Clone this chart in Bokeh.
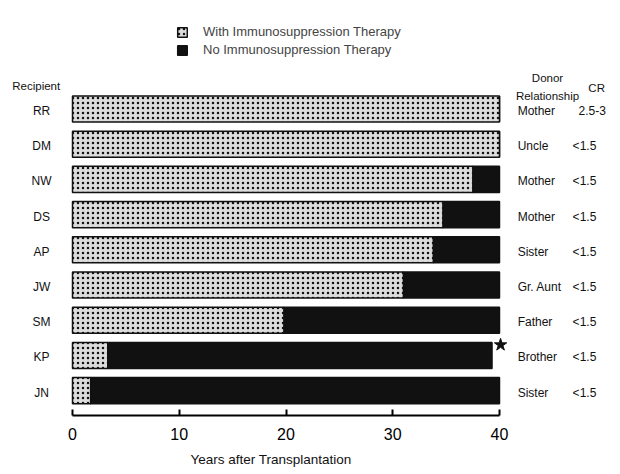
from bokeh.plotting import figure
from bokeh.models import Range1d, FixedTicker, Legend, LegendItem, ColumnDataSource, Title
from bokeh.core.properties import value
from bokeh.embed import file_html
from bokeh.resources import INLINE

recipients = ["RR", "DM", "NW", "DS", "AP", "JW", "SM", "KP", "JN"]
years_with_therapy = [40, 40, 37.5, 34.7, 33.8, 31.0, 19.8, 3.3, 1.7]
years_total = [40, 40, 40, 40, 40, 40, 40, 39.3, 40]
donors = ["Mother", "Uncle", "Mother", "Mother", "Sister", "Gr. Aunt", "Father", "Brother", "Sister"]
cr_values = ["2.5-3", "<1.5", "<1.5", "<1.5", "<1.5", "<1.5", "<1.5", "<1.5", "<1.5"]
x_ticks = [0, 10, 20, 30, 40]
starred = ["KP"]

rows = list(range(len(recipients)))
FONT = value("Liberation Sans")

src = ColumnDataSource(dict(
    row=rows, rec=recipients, w=years_with_therapy, tot=years_total,
    donor=donors, cr=cr_values,
    cr_x=[47.4 if c[0] != "<" else 46.85 for c in cr_values],
))

p = figure(width=620, height=474, output_backend="svg", toolbar_location=None,
           x_range=Range1d(-6.745, 51.335), y_range=Range1d(8.707, -3.082),
           min_border_left=0, min_border_right=0, min_border_top=0, min_border_bottom=59,
           y_axis_location=None)
p.outline_line_color = None
p.xgrid.visible = False
p.ygrid.visible = False
p.background_fill_color = "white"

ax = p.xaxis[0]
ax.bounds = (0, 40)
ax.ticker = FixedTicker(ticks=x_ticks)
ax.minor_tick_line_color = None
ax.major_tick_in = 6
ax.major_tick_out = 0
ax.major_tick_line_width = 2
ax.axis_line_width = 2
ax.axis_line_color = "black"
ax.major_tick_line_color = "black"
ax.major_label_text_font_size = "16px"
ax.major_label_text_font = "Liberation Sans"
ax.major_label_text_color = "black"
ax.major_label_standoff = 12

H = 0.74
r_no = p.hbar(y="row", left="w", right="tot", height=H, source=src,
              fill_color="#111111", line_color="#111111", line_width=1.5)
r_with = p.hbar(y="row", left=0, right="w", height=H, source=src,
                fill_color="#dcdcdc", line_color="#111111", line_width=1.5,
                hatch_pattern="dot", hatch_color="#111111", hatch_scale=5, hatch_weight=4)

star_rows = [recipients.index(s) for s in starred]
p.scatter(x=[years_total[i] + 0.8 for i in star_rows], y=[i - 0.3 for i in star_rows],
          marker="star", size=13, color="#111111")

p.text(x=-2.9, y="row", text="rec", source=src, text_align="center", text_baseline="middle",
       text_font=FONT, text_font_size="12px", text_color="#111111", y_offset=2)
p.text(x=41.7, y="row", text="donor", source=src, text_align="left", text_baseline="middle",
       text_font=FONT, text_font_size="12px", text_color="#111111", y_offset=2)
p.text(x="cr_x", y="row", text="cr", source=src, text_align="left", text_baseline="middle",
       text_font=FONT, text_font_size="12px", text_color="#111111", y_offset=2)

p.text(x=[-3.4], y=[-0.64], text=["Recipient"], text_align="center", text_baseline="middle",
       text_font=FONT, text_font_size="11.5px", text_color="#111111")
p.text(x=[44.5], y=[-0.62], text=["Donor\nRelationship"], text_align="center", text_baseline="middle",
       text_font=FONT, text_font_size="11.5px", text_color="#111111", text_line_height=1.45)
p.text(x=[49.1], y=[-0.61], text=["CR"], text_align="center", text_baseline="middle",
       text_font=FONT, text_font_size="11.5px", text_color="#111111")

p.add_layout(Title(text="Years after Transplantation", align="left", offset=190,
                   text_font="Liberation Sans", text_font_size="13.5px", text_font_style="normal",
                   text_color="#111111", standoff=15), "below")

legend = Legend(items=[LegendItem(label="With Immunosuppression Therapy", renderers=[r_with]),
                       LegendItem(label="No Immunosuppression Therapy", renderers=[r_no])],
                location=(176, 358), glyph_width=12, glyph_height=12, label_standoff=15,
                label_text_font="Liberation Sans", label_text_font_size="13px",
                padding=0, margin=0, border_line_alpha=0, background_fill_alpha=0)
p.add_layout(legend)

open("out.html", "w").write(file_html(p, INLINE))
